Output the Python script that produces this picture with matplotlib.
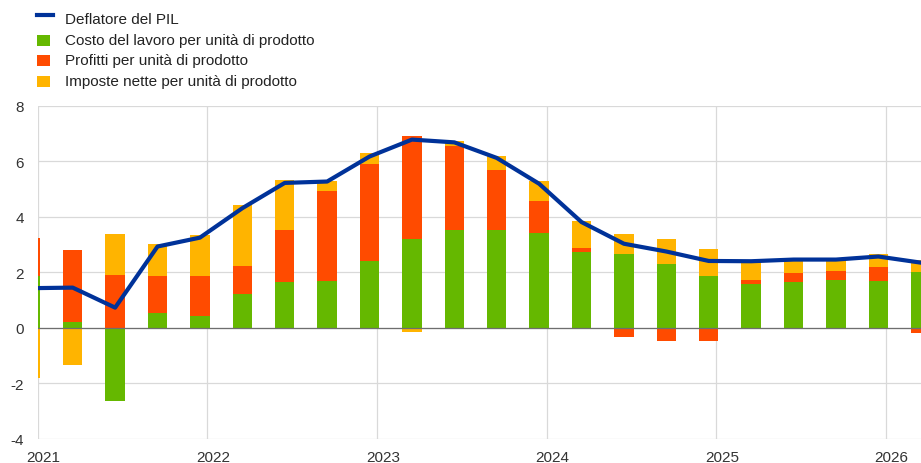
import matplotlib
matplotlib.use('Agg')
import matplotlib.pyplot as plt
import numpy as np
from matplotlib.patches import Rectangle
from matplotlib.lines import Line2D
import matplotlib.transforms as mtransforms

plt.rcParams['font.family'] = ['Liberation Sans', 'DejaVu Sans']

quarters = ['2021Q1', '2021Q2', '2021Q3', '2021Q4', '2022Q1', '2022Q2', '2022Q3', '2022Q4',
            '2023Q1', '2023Q2', '2023Q3', '2023Q4', '2024Q1', '2024Q2', '2024Q3', '2024Q4',
            '2025Q1', '2025Q2', '2025Q3', '2025Q4', '2026Q1', '2026Q2']
deflator = [1.43, 1.45, 0.73, 2.93, 3.25, 4.31, 5.22, 5.27, 6.17, 6.78, 6.68, 6.12,
            5.19, 3.81, 3.03, 2.75, 2.41, 2.40, 2.46, 2.46, 2.57, 2.35]
labour = [1.87, 0.23, -2.63, 0.54, 0.44, 1.21, 1.65, 1.70, 2.41, 3.19, 3.54, 3.54,
          3.43, 2.75, 2.67, 2.31, 1.87, 1.57, 1.65, 1.74, 1.70, 2.01]
profits = [1.36, 2.57, 1.92, 1.33, 1.43, 1.01, 1.89, 3.22, 3.48, 3.71, 3.00, 2.13,
           1.14, 0.13, -0.32, -0.47, -0.47, 0.17, 0.31, 0.30, 0.48, -0.17]
taxes = [-1.80, -1.32, 1.45, 1.14, 1.46, 2.21, 1.79, 0.37, 0.41, -0.15, 0.18, 0.53,
         0.72, 0.97, 0.70, 0.88, 0.97, 0.63, 0.47, 0.42, 0.47, 0.42]
year_ticks = [2021, 2022, 2023, 2024, 2025, 2026]
y_ticks = [-4, -2, 0, 2, 4, 6, 8]

names = ['Deflatore del PIL', 'Costo del lavoro per unità di prodotto',
         'Profitti per unità di prodotto', 'Imposte nette per unità di prodotto']
c_line = '#003299'
c_green = '#65B800'
c_red = '#FF4B00'
c_yellow = '#FFB400'

W, H = 921, 464
fig = plt.figure(figsize=(W / 100, H / 100), dpi=100)
ax_left, ax_right, ax_top, ax_bottom = 37.7, 921, 106.7, 440
ax = fig.add_axes([ax_left / W, 1 - ax_bottom / H, (ax_right - ax_left) / W, (ax_bottom - ax_top) / H])

n = len(quarters)
x = 2021 + np.arange(n) * 0.25 - 0.0435
width = 0.114

pos = np.zeros(n)
neg = np.zeros(n)
for vals, col in [(labour, c_green), (profits, c_red), (taxes, c_yellow)]:
    v = np.array(vals)
    bottom = np.where(v >= 0, pos, neg)
    ax.bar(x, v, width=width, bottom=bottom, color=col, zorder=2, linewidth=0)
    pos += np.clip(v, 0, None)
    neg += np.clip(v, None, 0)

ax.axhline(0, color='#6e6e6e', lw=0.9, zorder=3)
ax.plot(x, deflator, color=c_line, lw=3.0, zorder=5)

ax.set_xlim(2021, 2026.208)
ax.set_ylim(-4, 8)
ax.set_xticks(year_ticks)
ax.set_xticklabels([str(y) for y in year_ticks])
ax.set_yticks(y_ticks)
ax.set_yticklabels([str(t) for t in y_ticks])
ax.tick_params(axis='both', length=0, labelsize=11, colors='#333333')
ax.tick_params(axis='x', pad=8)
ax.tick_params(axis='y', pad=10)
offset = mtransforms.ScaledTranslation(6 / 100, 0, fig.dpi_scale_trans)
for lab in ax.get_xticklabels():
    lab.set_transform(lab.get_transform() + offset)
ax.grid(True, color='#d9d9d9', lw=0.9, zorder=0)
ax.set_axisbelow(True)
for s in ax.spines.values():
    s.set_visible(False)

# legend
rows_y = [20, 41, 61.5, 82]
cols = [c_line, c_green, c_red, c_yellow]
for i, (name, col) in enumerate(zip(names, cols)):
    yc = rows_y[i]
    if i == 0:
        fig.add_artist(Line2D([36.7 / W, 52.7 / W], [1 - 16 / H, 1 - 16 / H],
                              color=col, lw=3.0, transform=fig.transFigure))
    else:
        fig.add_artist(Rectangle((37.3 / W, 1 - (yc + 5.5) / H), 13 / W, 11 / H,
                                 color=col, transform=fig.transFigure, lw=0))
    fig.text(65 / W, 1 - yc / H, name, fontsize=11, color='#222222', va='center', ha='left')

fig.savefig('out.png', dpi=100)
